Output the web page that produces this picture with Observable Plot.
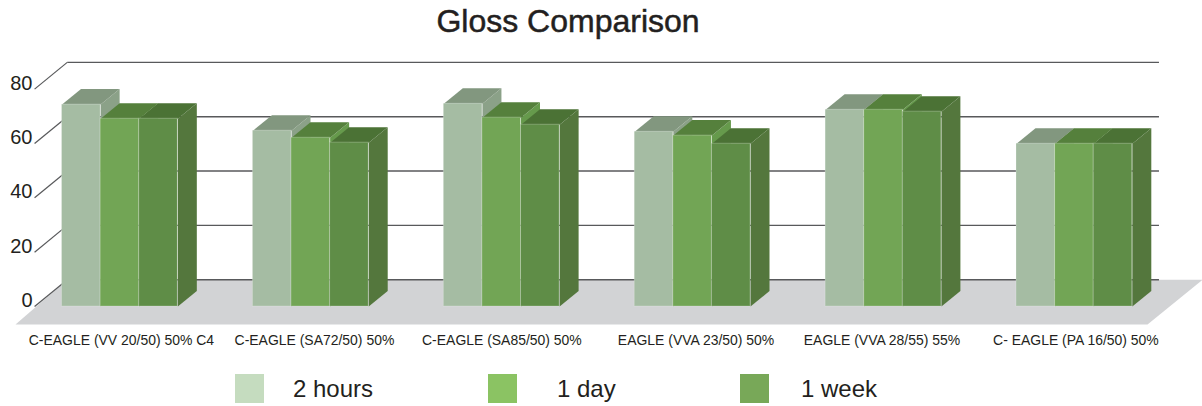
<!DOCTYPE html>
<html>
<head>
<meta charset="utf-8">
<script src="https://cdn.jsdelivr.net/npm/d3@7"></script>
<script src="https://cdn.jsdelivr.net/npm/@observablehq/plot@0.6"></script>
<style>
  html, body { margin: 0; padding: 0; background: #fff; overflow: hidden; }
  body { width: 1202px; height: 406px; font-family: "Liberation Sans", sans-serif; color: #231f20; }
  #title { height: 52px; position: relative; }
  #title span { position: absolute; left: 0; width: 1136px; top: 3px; text-align: center; font-size: 32px; line-height: 36px; font-weight: 400; -webkit-text-stroke: .5px #231f20; }
  #legend { position: relative; height: 44px; }
  #legend i { position: absolute; top: 12px; width: 29px; height: 29px; }
  #legend span { position: absolute; top: 13px; font-size: 24px; line-height: 28px; }
  svg { display: block; }
</style>
</head>
<body>
<div id="title"><span>Gloss Comparison</span></div>
<div id="chart"></div>
<div id="legend"></div>
<script>
const categories = [
  "C-EAGLE (VV 20/50) 50% C4",
  "C-EAGLE (SA72/50) 50%",
  "C-EAGLE (SA85/50) 50%",
  "EAGLE (VVA 23/50) 50%",
  "EAGLE (VVA 28/55) 55%",
  "C- EAGLE (PA 16/50) 50%"
];
const labelCenters = [0.005, 1.016, 1.998, 3.015, 3.989, 5.005];
const series = ["2 hours", "1 day", "1 week"];
const twoHours = [74.3, 64.7, 74.6, 64.3, 72.4, 59.9];
const oneDay   = [69.1, 62.1, 69.5, 62.9, 72.4, 59.9];
const oneWeek  = [69.1, 60.3, 66.9, 59.9, 71.7, 59.9];
const values = [twoHours, oneDay, oneWeek];
const yTicks = [0, 20, 40, 60, 80];

const legendColors = ["#c5dcbf", "#8bc363", "#78a858"];
const frontColors  = ["#a5bca3", "#72a555", "#5f8d47"];
const topColors    = ["#82977f", "#55803c", "#4b7235"];
const sideColors   = ["#8ba188", "#669a4c", "#54773d"];

// 3D projection, in data units of the x and y scales
const barWidth = 0.2022, barDepthX = 0.0995, barDepthY = 5.7, barShift = -0.003;
const wallDepthY = 9.85, wallLeft = -0.279, wallRight = 5.44, tickLeft = -0.45;
const floorFrontY = -6.6, floorFrontLeft = -0.55, floorFrontRight = 5.38, floorBackRight = 5.668;

const floor = [
  {x: floorFrontLeft, y: floorFrontY},
  {x: floorFrontRight, y: floorFrontY},
  {x: floorBackRight, y: wallDepthY},
  {x: wallLeft, y: wallDepthY}
];

function bars(s) {
  return values[s].map((v, i) => {
    const x0 = i + barShift + (s - 1.5) * barWidth;
    return {category: categories[i], series: series[s], value: v, x0, x1: x0 + barWidth};
  });
}
function sideFaces(s) {
  return bars(s).flatMap((b, i) => [
    {i, x: b.x1, y: 0},
    {i, x: b.x1 + barDepthX, y: barDepthY},
    {i, x: b.x1 + barDepthX, y: b.value + barDepthY},
    {i, x: b.x1, y: b.value}
  ]);
}
function topFaces(s) {
  return bars(s).flatMap((b, i) => [
    {i, x: b.x0, y: b.value},
    {i, x: b.x1, y: b.value},
    {i, x: b.x1 + barDepthX, y: b.value + barDepthY},
    {i, x: b.x0 + barDepthX, y: b.value + barDepthY}
  ]);
}

const gridColor = "#58595b";
const plot = Plot.plot({
  width: 1202,
  height: 310,
  marginLeft: 31,
  marginRight: 0,
  marginTop: 4,
  marginBottom: 34.24,
  x: {type: "linear", domain: [-0.4662, 5.668]},
  y: {type: "linear", domain: [-8, 92]},
  style: {background: "transparent", fontFamily: "'Liberation Sans', sans-serif", color: "#231f20", overflow: "visible"},
  marks: [
    Plot.line(floor, {x: "x", y: "y", fill: "#d2d3d5", stroke: "none"}),
    Plot.link(yTicks, {x1: wallLeft, x2: wallRight, y1: d => d + wallDepthY, y2: d => d + wallDepthY, stroke: gridColor, strokeWidth: 1.4}),
    Plot.link(yTicks, {x1: tickLeft, x2: wallLeft, y1: d => d, y2: d => d + wallDepthY, stroke: gridColor, strokeWidth: 1.2}),
    ...series.flatMap((name, s) => [
      Plot.line(sideFaces(s), {x: "x", y: "y", z: "i", fill: sideColors[s], stroke: "none"}),
      Plot.line(topFaces(s), {x: "x", y: "y", z: "i", fill: topColors[s], stroke: "none"}),
      Plot.rect(bars(s), {x1: "x0", x2: "x1", y1: 0, y2: "value", fill: frontColors[s], stroke: "#fff", strokeOpacity: 0.22, strokeWidth: 1})
    ]),
    Plot.axisY({ticks: yTicks, anchor: "left", tickSize: 0, tickPadding: 0, dx: 1, dy: -6, fontSize: 20, label: null, tickFormat: d => String(d)}),
    Plot.axisX({ticks: labelCenters, anchor: "bottom", tickSize: 0, tickPadding: 6, fontSize: 15.5, label: null,
      className: "cat-labels",
      tickFormat: d => categories[labelCenters.indexOf(d)]})
  ]
});
document.getElementById("chart").append(plot);

// The reference sets the category labels in a condensed face: squeeze them horizontally.
plot.querySelectorAll("text").forEach(t => {
  if (categories.includes(t.textContent)) {
    t.setAttribute("textLength", t.getComputedTextLength() * 0.9);
    t.setAttribute("lengthAdjust", "spacingAndGlyphs");
  }
});

const swatchLeft = [235, 488, 740];
const textLeft = [293, 557, 801];
const legend = document.getElementById("legend");
series.forEach((name, s) => {
  const i = document.createElement("i");
  i.style.left = swatchLeft[s] + "px";
  i.style.background = legendColors[s];
  const t = document.createElement("span");
  t.style.left = textLeft[s] + "px";
  t.textContent = name;
  legend.append(i, t);
});
</script>
</body>
</html>
